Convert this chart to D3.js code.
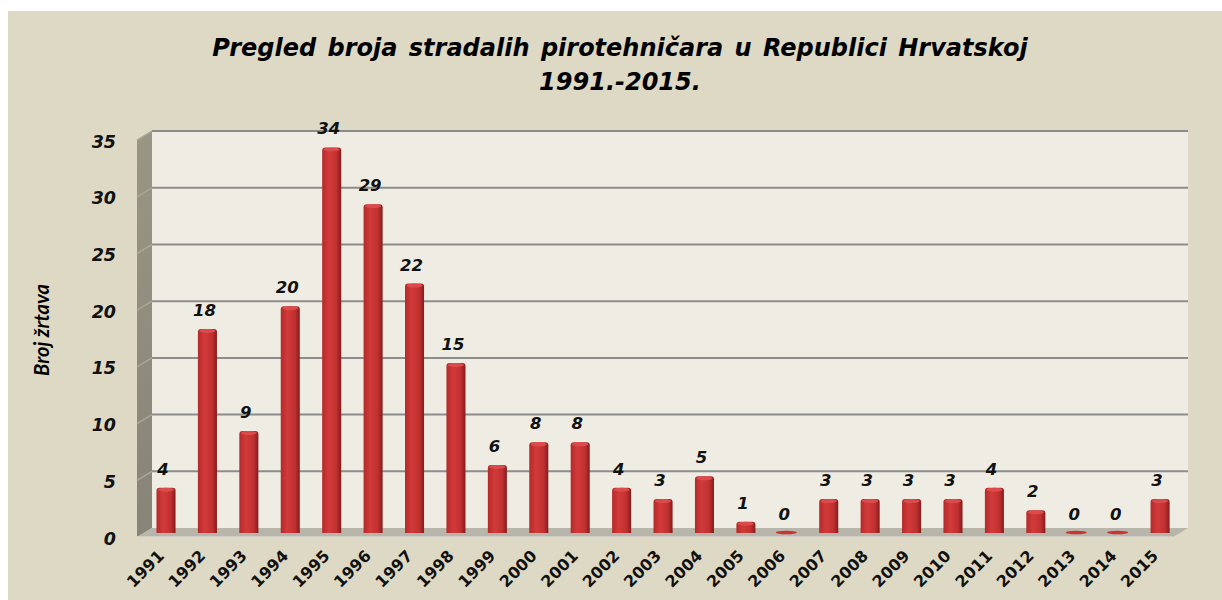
<!DOCTYPE html>
<html>
  <head>
    <meta charset="utf-8" />
    <script src="https://d3js.org/d3.v7.min.js"></script>
    <style>
      body { margin: 0; background: #ffffff; }
    </style>
  </head>
  <body>
    <svg id="chart" width="1222" height="600"></svg>
    <script>
      // Podaci
      const godine = ["1991", "1992", "1993", "1994", "1995", "1996", "1997", "1998", "1999", "2000",
        "2001", "2002", "2003", "2004", "2005", "2006", "2007", "2008", "2009", "2010",
        "2011", "2012", "2013", "2014", "2015"];
      const zrtve = [4, 18, 9, 20, 34, 29, 22, 15, 6, 8, 8, 4, 3, 5, 1, 0, 3, 3, 3, 3, 4, 2, 0, 0, 3];
      const yTicks = [0, 5, 10, 15, 20, 25, 30, 35];
      const naslov = ["Pregled broja stradalih pirotehničara u Republici Hrvatskoj", "1991.-2015."];
      const yNaslov = "Broj žrtava";

      const svg = d3.select("#chart");
      const depthX = 15, depthY = 9; // 3D dubina

      // Pozadina
      svg.append("rect").attr("x", 8).attr("y", 11).attr("width", 1214).attr("height", 589).attr("fill", "#ded9c4");

      const x = d3.scaleBand().domain(godine).range([145.3, 1180.8]).paddingInner(0.54).paddingOuter(0.27);
      const y = d3.scaleLinear().domain([0, 35]).range([533, 533 - 35 * 11.34]);

      const backX0 = 152, backX1 = 1188;
      const backY = (v) => y(v) - depthY / 2 - 0.5;
      const frontY = (v) => y(v) + depthY / 2;

      const defs = svg.append("defs");
      const g1 = defs.append("linearGradient").attr("id", "bar-grad").attr("x1", 0).attr("x2", 1).attr("y1", 0).attr("y2", 0);
      g1.append("stop").attr("offset", "0%").attr("stop-color", "#b52a2a");
      g1.append("stop").attr("offset", "35%").attr("stop-color", "#d23a3a");
      g1.append("stop").attr("offset", "75%").attr("stop-color", "#c03030");
      g1.append("stop").attr("offset", "100%").attr("stop-color", "#861c1c");
      const g2 = defs.append("linearGradient").attr("id", "side-grad").attr("x1", 0).attr("x2", 0).attr("y1", 0).attr("y2", 1);
      g2.append("stop").attr("offset", "0%").attr("stop-color", "#999684");
      g2.append("stop").attr("offset", "100%").attr("stop-color", "#878478");

      // Zadnji zid
      svg.append("rect")
        .attr("x", backX0).attr("y", backY(35))
        .attr("width", backX1 - backX0).attr("height", backY(0) - backY(35))
        .attr("fill", "#efede3");

      // Lijevi zid
      svg.append("path")
        .attr("d", `M${backX0},${backY(35)} L${backX0 - depthX},${backY(35) + depthY} L${backX0 - depthX},${backY(0) + depthY} L${backX0},${backY(0)} Z`)
        .attr("fill", "url(#side-grad)");

      // Pod
      svg.append("path")
        .attr("d", `M${backX0},${backY(0)} L${backX1},${backY(0)} L${backX1 - depthX},${backY(0) + depthY} L${backX0 - depthX},${backY(0) + depthY} Z`)
        .attr("fill", "#b8b5aa");
      svg.append("line")
        .attr("x1", backX0 - depthX).attr("x2", backX1 - depthX)
        .attr("y1", backY(0) + depthY).attr("y2", backY(0) + depthY)
        .attr("stroke", "#d8d6cf").attr("stroke-width", 1.5);

      // Mreža
      yTicks.filter((t) => t > 0).forEach((t) => {
        svg.append("line")
          .attr("x1", backX0).attr("x2", backX1)
          .attr("y1", backY(t)).attr("y2", backY(t))
          .attr("stroke", "#8c8c8c").attr("stroke-width", 2);
        svg.append("line")
          .attr("x1", backX0 - depthX).attr("x2", backX0)
          .attr("y1", backY(t) + depthY).attr("y2", backY(t))
          .attr("stroke", "#a9a797").attr("stroke-width", 1.5);
      });

      // Oznake osi Y
      svg.append("g").selectAll("text").data(yTicks).join("text")
        .attr("x", 116).attr("y", (d) => frontY(d) + 2)
        .attr("text-anchor", "end").attr("dominant-baseline", "middle")
        .attr("font-family", "DejaVu Sans").attr("font-weight", "bold").attr("font-style", "italic")
        .attr("font-size", 17.5).attr("fill", "#111")
        .text((d) => d);

      // Stupci
      const bw = x.bandwidth();
      const bars = svg.append("g").selectAll("g").data(zrtve).join("g");
      bars.each(function (d, i) {
        const g = d3.select(this);
        const x0 = x(godine[i]);
        const top = y(d);
        if (d > 0) {
          g.append("path")
            .attr("d", `M${x0},${y(0)} L${x0},${top + 3} Q${x0},${top} ${x0 + 3},${top} L${x0 + bw - 3},${top} Q${x0 + bw},${top} ${x0 + bw},${top + 3} L${x0 + bw},${y(0)} Z`)
            .attr("fill", "url(#bar-grad)");
          g.append("ellipse")
            .attr("cx", x0 + bw / 2).attr("cy", top + 2)
            .attr("rx", bw / 2 - 1.5).attr("ry", 2)
            .attr("fill", "#dc4b4b");
        } else {
          g.append("ellipse")
            .attr("cx", x0 + bw / 2 - 1).attr("cy", y(0) - 0.5)
            .attr("rx", bw / 2 + 1).attr("ry", 1.8)
            .attr("fill", "#c93434");
        }
      });

      // Vrijednosti
      svg.append("g").selectAll("text").data(zrtve).join("text")
        .attr("x", (d, i) => x(godine[i]) + bw / 2 - 3)
        .attr("y", (d) => y(d) - 13)
        .attr("text-anchor", "middle")
        .attr("font-family", "DejaVu Sans").attr("font-weight", "bold").attr("font-style", "italic")
        .attr("font-size", 16.5).attr("fill", "#111")
        .text((d) => d);

      // Oznake osi X
      svg.append("g").selectAll("text").data(godine).join("text")
        .attr("transform", (d) => `translate(${x(d) + bw / 2 - 1},${557}) rotate(-45)`)
        .attr("text-anchor", "end")
        .attr("font-family", "DejaVu Sans").attr("font-weight", "bold")
        .attr("font-size", 16).attr("fill", "#111")
        .text((d) => d);

      // Naslov
      svg.append("g").selectAll("text").data(naslov).join("text")
        .attr("x", 620).attr("y", (d, i) => 56 + i * 34)
        .attr("text-anchor", "middle")
        .attr("font-family", "DejaVu Sans").attr("font-weight", "bold").attr("font-style", "italic")
        .attr("font-size", 24).attr("fill", "#000")
        .attr("word-spacing", 3)
        .text((d) => d);

      // Naslov osi Y
      svg.append("text")
        .attr("transform", `translate(49,330) rotate(-90)`)
        .attr("text-anchor", "middle")
        .attr("font-family", "Lato").attr("font-weight", "bold").attr("font-style", "italic")
        .attr("font-size", 20).attr("fill", "#000")
        .text(yNaslov);
    </script>
  </body>
</html>
